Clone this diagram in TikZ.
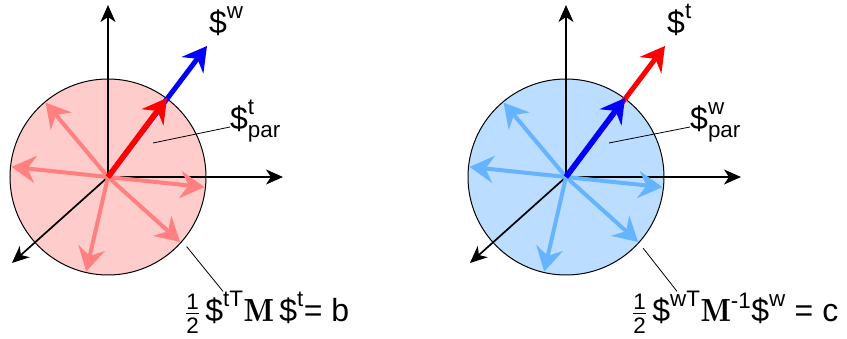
\documentclass[tikz,border=0pt]{standalone}
\usepackage{fix-cm}
\usepackage{amsmath}
\usepackage[no-math]{fontspec}
\setmainfont{Liberation Sans}
\usetikzlibrary{arrows.meta}
\usetikzlibrary{positioning}
\usetikzlibrary{calc}
\definecolor{pinkfill}{RGB}{255,204,204}
\definecolor{pinkvec}{RGB}{255,128,128}
\definecolor{bluefill}{RGB}{187,221,255}
\definecolor{bluevec}{RGB}{102,179,255}
\tikzstyle{axis}=[line width=1.7pt,-{Stealth[length=17pt,width=15pt,inset=5pt]}]
\tikzstyle{vec}=[line width=4pt,-{Stealth[length=24pt,width=27pt,inset=8pt]}]
\tikzstyle{lbl}=[inner sep=0pt,font=\fontsize{32}{38}\selectfont]
\tikzstyle{lead}=[line width=0.8pt]
\tikzstyle{rim}=[draw,circle,line width=1pt,minimum size=196pt,inner sep=0pt]
\newcommand{\bM}{\text{\fontfamily{lmr}\bfseries M}}

\begin{document}
\begin{tikzpicture}[x=1pt,y=1pt]
\useasboundingbox (-108,-162) rectangle (739,177);
% left: ellipse of t
\begin{scope}
\node[rim,fill=pinkfill] (Lc) at (0,0) {};
\coordinate (Lx) at (175,0);
\coordinate (Ly) at (0,172);
\coordinate (Lz) at (-96,-86);
\foreach \t in {Lx,Ly,Lz}{\draw[axis] (Lc.center) -- (\t);}
\foreach \a [count=\i] in {130,174,-6,-42,-103}{
  \coordinate (Lp\i) at (\a:97);
  \draw[vec,pinkvec] (Lc.center) -- (Lp\i);}

\coordinate (Lw) at (99,131);
\coordinate (Lt) at (59,79);
\draw[vec,blue,line width=5pt] (Lc.center) -- (Lw);
\draw[vec,red,line width=5.5pt] (Lc.center) -- (Lt);
\node[lbl,anchor=base west] (Lwlbl) at (101,143) {$\text{\$}^{\text{w}}$};
\node[lbl,anchor=base west] (Lparlbl) at (122,47) {$\text{\$}^{\text{t}}_{\text{par}}$};
\coordinate (Lparpt) at (45,34);
\draw[lead] (Lparpt) -- ($(Lparlbl.base west)+(0,3)$);
\node[lbl,anchor=base west] (Leqlbl) at (77,-145) {$\tfrac{\text{1}}{\text{2}}\,\text{\$}^{\text{tT}}\bM\,\text{\$}^{\text{t}}\text{= b}$};
\coordinate (Lrim) at (-41.5:105);
\draw[lead] (Lrim) -- ($(Leqlbl.north west)+(38,0)$);
\end{scope}

% right: ellipse of w
\begin{scope}[shift={(458,0)}]
\node[rim,fill=bluefill] (Rc) at (0,0) {};
\coordinate (Rx) at (175,0);
\coordinate (Ry) at (0,172);
\coordinate (Rz) at (-96,-86);
\foreach \t in {Rx,Ry,Rz}{\draw[axis] (Rc.center) -- (\t);}
\foreach \a [count=\i] in {130,174,-6,-42,-103}{
  \coordinate (Rp\i) at (\a:97);
  \draw[vec,bluevec] (Rc.center) -- (Rp\i);}

\coordinate (Rt) at (99,131);
\coordinate (Rw) at (59,79);
\draw[vec,red,line width=5pt] (Rc.center) -- (Rt);
\draw[vec,blue,line width=5.5pt] (Rc.center) -- (Rw);
\node[lbl,anchor=base west] (Rtlbl) at (101,143) {$\text{\$}^{\text{t}}$};
\node[lbl,anchor=base west] (Rparlbl) at (124,47) {$\text{\$}^{\text{w}}_{\text{par}}$};
\coordinate (Rparpt) at (43,34);
\draw[lead] (Rparpt) -- ($(Rparlbl.base west)+(0,3)$);
\node[lbl,anchor=base west] (Reqlbl) at (66,-145) {$\tfrac{\text{1}}{\text{2}}\,\text{\$}^{\text{wT}}\bM^{\text{-1}}\text{\$}^{\text{w}}\text{ = c}$};
\coordinate (Rrim) at (-42.7:105);
\draw[lead] (Rrim) -- ($(Reqlbl.north west)+(45,0)$);
\end{scope}
\end{tikzpicture}
\end{document}
